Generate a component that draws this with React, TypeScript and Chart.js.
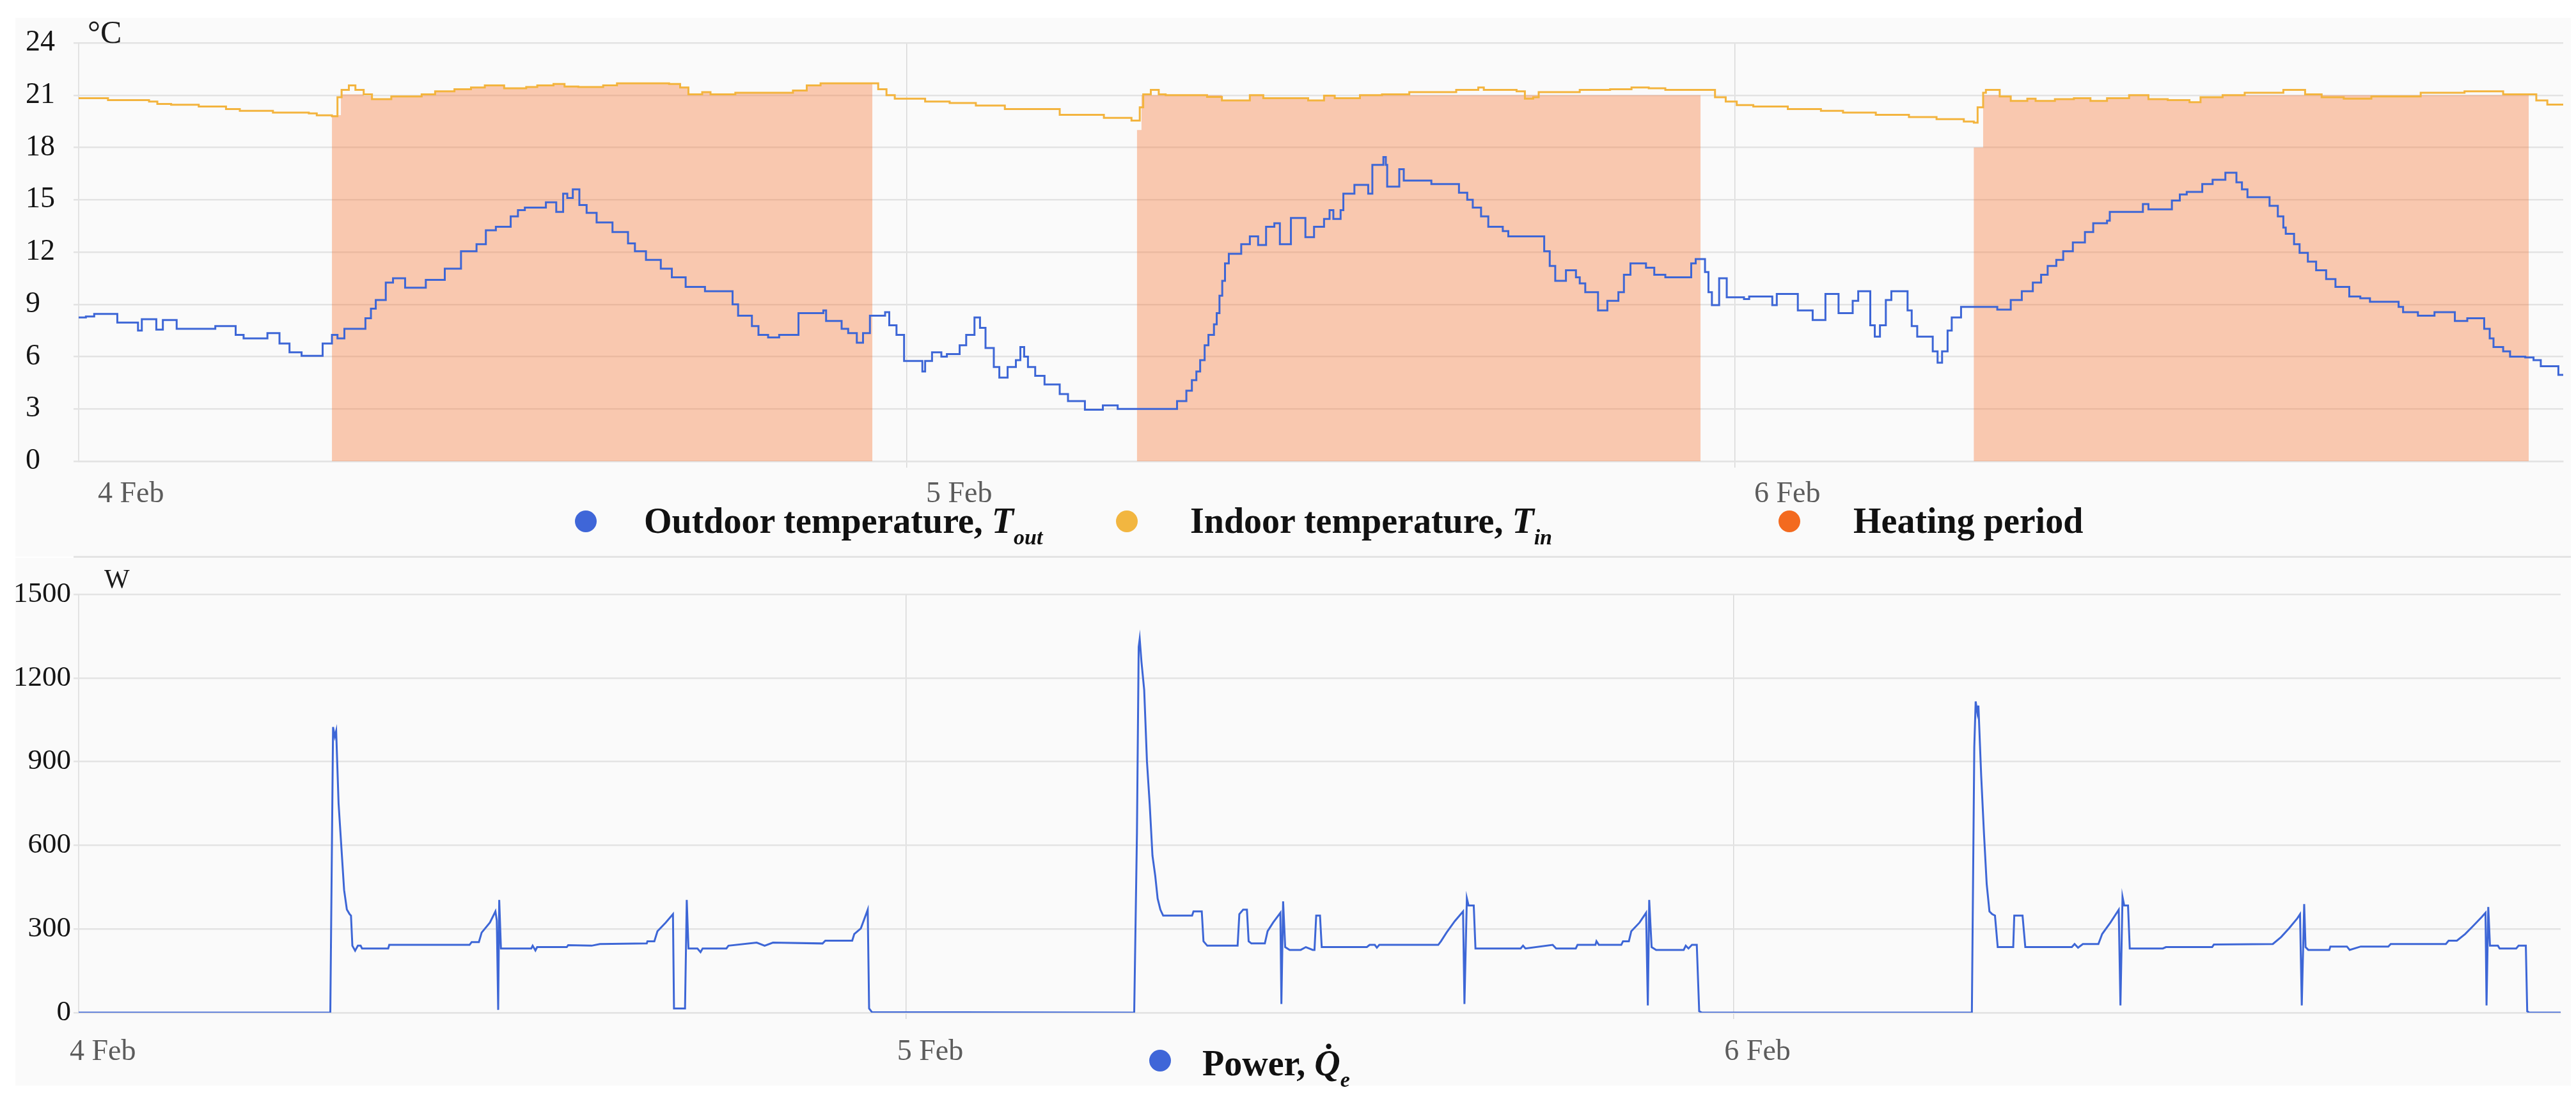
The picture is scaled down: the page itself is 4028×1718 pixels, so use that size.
import React, { useEffect, useRef } from 'react';
import { Chart, registerables } from 'chart.js';

Chart.register(...registerables);

// ===== data (x = hours since 4 Feb 00:00) =====

const dayLabels = ['4 Feb', '5 Feb', '6 Feb'];

// outdoor temperature T_out [h, °C]
const outdoorTemp: [number, number][] = [
  [0, 8.25], [0.21, 8.3], [0.45, 8.45], [1.12, 7.95], [1.72, 7.5], [1.83, 8.15], [2.25, 7.55], [2.44, 8.1],
  [2.84, 7.6], [3.96, 7.75], [4.55, 7.25], [4.78, 7.05], [5.47, 7.35], [5.82, 6.75], [6.11, 6.25], [6.46, 6.05],
  [7.07, 6.75], [7.34, 7.25], [7.5, 7.05], [7.7, 7.6], [8.31, 8.2], [8.47, 8.75], [8.61, 9.25], [8.9, 10.25],
  [9.11, 10.5], [9.46, 9.95], [10.06, 10.4], [10.61, 11.05], [11.08, 12.05], [11.53, 12.45], [11.8, 13.25],
  [12.09, 13.45], [12.52, 14.05], [12.73, 14.4], [12.93, 14.55], [13.54, 14.85], [13.84, 14.3], [14.04, 15.35],
  [14.16, 15.1], [14.32, 15.6], [14.51, 14.7], [14.72, 14.25], [15.01, 13.7], [15.47, 13.15], [15.92, 12.5],
  [16.12, 12.05], [16.44, 11.55], [16.87, 11.05], [17.19, 10.55], [17.59, 10.0], [18.15, 9.75], [18.95, 9.0],
  [19.11, 8.35], [19.51, 7.75], [19.7, 7.25], [19.98, 7.1], [20.3, 7.25], [20.86, 8.5], [21.58, 8.65],
  [21.66, 8.05], [22.11, 7.6], [22.3, 7.35], [22.55, 6.8], [22.73, 7.35], [22.93, 8.35], [23.37, 8.55],
  [23.49, 7.8], [23.7, 7.25], [23.92, 5.75], [24.45, 5.15], [24.53, 5.75], [24.73, 6.25], [25.0, 6.0],
  [25.16, 6.15], [25.53, 6.65], [25.72, 7.25], [25.96, 8.25], [26.12, 7.65], [26.28, 6.5], [26.52, 5.4],
  [26.68, 4.8], [26.92, 5.4], [27.16, 5.8], [27.29, 6.55], [27.4, 6.0], [27.51, 5.4], [27.72, 4.9],
  [27.99, 4.4], [28.43, 3.85], [28.67, 3.45], [29.16, 2.95], [29.68, 3.2], [30.11, 3.0], [31.83, 3.45],
  [32.1, 4.05], [32.26, 4.65], [32.39, 5.15], [32.5, 5.8], [32.63, 6.65], [32.74, 7.25], [32.9, 7.85],
  [32.98, 8.5], [33.06, 9.5], [33.14, 10.35], [33.22, 11.35], [33.33, 11.9], [33.69, 12.45], [33.94, 12.9],
  [34.18, 12.4], [34.41, 13.45], [34.65, 13.65], [34.81, 12.45], [35.13, 13.95], [35.55, 12.85],
  [35.8, 13.45], [36.09, 13.9], [36.25, 14.4], [36.36, 13.9], [36.57, 14.4], [36.65, 15.35], [36.97, 15.85],
  [37.37, 15.35], [37.49, 17.0], [37.81, 17.45], [37.88, 17.0], [37.92, 15.75], [38.27, 16.75], [38.4, 16.1],
  [39.2, 15.9], [40.0, 15.4], [40.24, 15.0], [40.4, 14.55], [40.64, 14.05], [40.85, 13.45], [41.27, 13.2],
  [41.43, 12.9], [42.47, 12.05], [42.63, 11.2], [42.79, 10.35], [43.1, 10.95], [43.39, 10.55], [43.5, 10.2],
  [43.66, 9.7], [44.03, 8.65], [44.3, 9.2], [44.62, 9.7], [44.78, 10.7], [44.97, 11.35], [45.42, 11.1],
  [45.66, 10.7], [45.98, 10.55], [46.73, 11.35], [46.86, 11.6], [47.13, 10.85], [47.23, 9.7], [47.33, 8.95],
  [47.54, 10.5], [47.76, 9.4], [48.26, 9.3], [48.41, 9.45], [49.08, 8.95], [49.21, 9.6], [49.82, 8.65],
  [50.25, 8.1], [50.62, 9.6], [51.0, 8.5], [51.41, 9.2], [51.57, 9.75], [51.92, 7.8], [52.05, 7.15],
  [52.2, 7.8], [52.37, 9.25], [52.53, 9.75], [53.0, 8.65], [53.12, 7.75], [53.28, 7.15], [53.73, 6.3],
  [53.87, 5.65], [54.0, 6.3], [54.16, 7.5], [54.28, 8.25], [54.55, 8.85], [55.6, 8.7], [55.99, 9.25],
  [56.31, 9.75], [56.63, 10.25], [56.87, 10.7], [57.06, 11.2], [57.31, 11.55], [57.51, 12.05], [57.79, 12.55],
  [58.14, 13.15], [58.38, 13.65], [58.78, 13.8], [58.86, 14.3], [59.82, 14.75], [59.98, 14.45], [60.66, 14.95],
  [60.89, 15.3], [61.09, 15.45], [61.54, 15.9], [61.84, 16.15], [62.21, 16.55], [62.53, 16.0], [62.69, 15.6],
  [62.85, 15.15], [63.49, 14.65], [63.73, 14.05], [63.89, 13.4], [63.96, 13.05], [64.2, 12.45], [64.36, 11.95],
  [64.6, 11.45], [64.84, 10.95], [65.13, 10.45], [65.4, 10.0], [65.8, 9.45], [66.12, 9.35], [66.4, 9.15],
  [67.23, 8.85], [67.36, 8.55], [67.79, 8.35], [68.27, 8.55], [68.86, 8.05], [69.22, 8.2], [69.71, 7.6],
  [69.87, 7.05], [69.98, 6.55], [70.26, 6.3], [70.46, 6.0], [70.9, 5.95], [71.14, 5.8], [71.35, 5.45],
  [71.86, 4.95], [72, 4.95],
];

// indoor temperature T_in [h, °C]
const indoorTemp: [number, number][] = [
  [0, 20.83], [0.85, 20.72], [2.04, 20.63], [2.28, 20.5], [2.68, 20.45], [3.48, 20.35], [4.27, 20.2],
  [4.67, 20.1], [5.63, 20.0], [6.67, 19.95], [6.9, 19.84], [7.34, 19.79], [7.5, 20.88], [7.62, 21.3],
  [7.83, 21.56], [8.02, 21.3], [8.26, 21.05], [8.5, 20.77], [9.06, 20.93], [9.94, 21.05], [10.33, 21.22],
  [10.89, 21.34], [11.37, 21.44], [11.77, 21.56], [12.33, 21.39], [12.97, 21.47], [13.29, 21.56],
  [13.76, 21.64], [14.08, 21.5], [14.48, 21.47], [15.2, 21.56], [15.6, 21.68], [17.11, 21.64], [17.43, 21.44],
  [17.67, 21.05], [18.07, 21.17], [18.31, 21.05], [19.03, 21.14], [20.7, 21.27], [21.1, 21.56], [21.5, 21.68],
  [23.01, 21.68], [23.17, 21.34], [23.41, 21.0], [23.65, 20.8], [24.53, 20.63], [25.24, 20.55], [26.0, 20.4],
  [26.84, 20.2], [28.43, 19.87], [29.71, 19.7], [30.51, 19.54], [30.75, 20.3], [30.85, 21.05], [31.07, 21.3],
  [31.3, 21.05], [31.5, 21.0], [32.7, 20.9], [33.13, 20.7], [33.94, 21.0], [34.33, 20.83], [35.63, 20.7],
  [36.09, 20.97], [36.4, 20.83], [37.13, 21.0], [37.77, 21.05], [38.56, 21.17], [39.92, 21.3], [40.56, 21.44],
  [40.72, 21.3], [41.67, 21.22], [41.91, 20.8], [42.15, 20.88], [42.31, 21.17], [43.5, 21.3], [44.38, 21.34],
  [45.0, 21.44], [45.5, 21.39], [45.98, 21.3], [47.23, 21.3], [47.42, 20.88], [47.73, 20.63], [48.05, 20.43],
  [48.53, 20.35], [49.53, 20.2], [50.49, 20.1], [51.13, 20.0], [52.08, 19.87], [53.04, 19.74], [53.84, 19.62],
  [54.63, 19.49], [54.92, 19.42], [55.03, 20.3], [55.19, 21.14], [55.27, 21.3], [55.67, 20.93], [55.99, 20.67],
  [56.47, 20.8], [56.71, 20.67], [57.27, 20.77], [57.82, 20.83], [58.3, 20.67], [58.78, 20.83], [59.42, 21.0],
  [59.98, 20.77], [60.54, 20.72], [61.17, 20.6], [61.49, 20.88], [62.13, 21.0], [62.77, 21.14], [63.89, 21.3],
  [64.52, 21.05], [65.0, 20.88], [65.64, 20.8], [66.44, 20.93], [67.87, 21.14], [69.14, 21.22], [70.26, 21.05],
  [71.22, 20.7], [71.54, 20.46], [72, 20.43],
];

// heating period, filled area top [h, °C] (0 = off)
const heatingPeriod: [number, number][] = [
  [0, 0], [7.34, 19.85], [7.6, 21.05], [8.26, 20.95], [8.5, 20.77], [9.06, 20.93], [9.94, 21.05],
  [10.33, 21.22], [10.89, 21.34], [11.37, 21.44], [11.77, 21.56], [12.33, 21.39], [12.97, 21.47],
  [13.29, 21.56], [13.76, 21.64], [14.08, 21.5], [15.6, 21.68], [17.43, 21.44], [17.67, 21.05], [18.07, 21.17],
  [18.31, 21.05], [19.03, 21.14], [20.7, 21.27], [21.1, 21.56], [21.5, 21.68], [23.0, 0],
  [30.67, 19.0], [30.8, 21.0], [33.13, 20.7], [33.94, 21.0], [34.33, 20.83], [35.63, 20.7], [36.09, 20.97],
  [36.4, 20.83], [37.13, 21.0], [47.0, 0],
  [54.92, 18.0], [55.19, 21.0], [55.67, 20.93], [55.99, 20.67], [56.47, 20.8], [56.71, 20.67], [57.27, 20.77],
  [57.82, 20.83], [58.3, 20.67], [58.78, 20.83], [59.42, 21.0], [59.98, 20.77], [60.54, 20.72], [61.17, 20.6],
  [61.49, 20.88], [62.13, 21.0], [71.0, 0], [72, 0],
];

// heating power Q_e [h, W]
const heatingPower: [number, number][] = [
  [0, 0], [7.3, 0], [7.38, 1024], [7.43, 990], [7.47, 1010], [7.54, 750], [7.62, 595], [7.7, 440], [7.78, 370],
  [7.86, 353], [7.9, 348], [7.94, 240], [8.02, 222], [8.1, 240], [8.18, 240], [8.22, 230], [8.98, 230],
  [9.01, 243], [11.34, 243], [11.4, 253], [11.61, 253], [11.69, 287], [11.93, 323], [12.09, 363], [12.13, 330],
  [12.17, 10], [12.2, 404], [12.25, 230], [13.13, 230], [13.17, 240], [13.25, 223], [13.3, 235], [14.16, 235],
  [14.2, 242], [14.88, 240], [15.12, 246], [16.48, 248], [16.5, 256], [16.7, 256], [16.79, 292], [17.03, 323],
  [17.24, 353], [17.27, 15], [17.59, 15], [17.64, 404], [17.69, 230], [17.95, 230], [18.04, 217], [18.1, 230],
  [18.79, 230], [18.85, 240], [19.67, 251], [19.9, 240], [20.14, 251], [21.58, 248], [21.66, 258], [22.44, 258],
  [22.5, 282], [22.69, 302], [22.89, 369], [22.93, 15], [23.01, 2],
  [30.62, 0], [30.7, 645], [30.75, 1311], [30.78, 1340], [30.83, 1259], [30.91, 1157], [30.99, 901],
  [31.07, 747], [31.15, 563], [31.23, 491], [31.3, 409], [31.38, 369], [31.46, 348], [32.3, 348], [32.34, 363],
  [32.58, 363], [32.63, 256], [32.74, 240], [33.62, 240], [33.67, 353], [33.78, 369], [33.89, 369],
  [33.94, 256], [34.02, 248], [34.41, 248], [34.49, 292], [34.65, 323], [34.86, 358], [34.89, 31], [34.94, 399],
  [35.0, 235], [35.13, 225], [35.45, 225], [35.6, 235], [35.8, 225], [35.85, 225], [35.9, 348], [36.01, 348],
  [36.06, 235], [37.37, 235], [37.45, 243], [37.6, 243], [37.66, 233], [37.73, 243], [39.44, 243], [39.52, 256],
  [39.68, 287], [39.92, 328], [40.16, 363], [40.2, 31], [40.27, 410], [40.32, 384], [40.47, 384], [40.52, 230],
  [41.83, 230], [41.9, 240], [41.97, 230], [42.76, 243], [42.86, 230], [43.43, 230], [43.48, 243], [44.0, 243],
  [44.03, 256], [44.1, 243], [44.75, 243], [44.8, 256], [44.97, 256], [45.04, 292], [45.28, 323], [45.47, 358],
  [45.52, 26], [45.56, 404], [45.63, 235], [45.76, 225], [46.56, 225], [46.62, 240], [46.7, 230], [46.8, 243],
  [46.94, 243], [47.01, 5], [47.09, 0],
  [54.92, 0], [54.99, 952], [55.03, 1116], [55.08, 1075], [55.11, 1101], [55.19, 850], [55.27, 645],
  [55.35, 461], [55.43, 363], [55.51, 353], [55.59, 348], [55.67, 235], [56.12, 235], [56.15, 348], [56.39, 348],
  [56.47, 235], [57.82, 235], [57.9, 246], [58.0, 233], [58.14, 246], [58.59, 246], [58.7, 282], [58.94, 323],
  [59.18, 369], [59.23, 26], [59.29, 415], [59.34, 384], [59.45, 384], [59.5, 230], [60.46, 230], [60.55, 235],
  [61.89, 235], [61.94, 244], [63.65, 246], [63.89, 271], [64.12, 302], [64.36, 338], [64.44, 353], [64.49, 26],
  [64.56, 389], [64.6, 235], [64.68, 225], [65.29, 225], [65.32, 237], [65.8, 237], [65.88, 225], [66.2, 237],
  [67.0, 237], [67.07, 246], [68.67, 246], [68.75, 258], [68.99, 258], [69.23, 282], [69.47, 312], [69.71, 343],
  [69.82, 358], [69.85, 26], [69.9, 379], [69.95, 240], [70.18, 240], [70.23, 230], [70.71, 230], [70.78, 240],
  [70.99, 240], [71.03, 5], [71.09, 0], [72, 0],
];

// ===== styles =====

const FONT = '"Liberation Serif", "Times New Roman", serif';
const CANVAS_FONT = 'Liberation Serif, serif';
const BLUE = '#3d66d6';
const AMBER = '#f3b43e';
const ORANGE = '#f36a1f';
const HEAT_FILL = 'rgba(247, 112, 42, 0.36)';
const GRID = '#e3e3e3';
const DAY_GRID = '#d8d8d8';

Chart.defaults.font.family = CANVAS_FONT;

const toXY = (pts: [number, number][]) => pts.map(([x, y]) => ({ x, y }));

const dayTick = (value: number | string) => {
  const v = Number(value);
  const i = Math.round(v / 24);
  return v % 24 === 0 && i < dayLabels.length ? dayLabels[i] : '';
};

const plainTick = (value: number | string) => String(value);

function xScale(labelOffset: number, padding: number) {
  return {
    type: 'linear' as const,
    min: 0,
    max: 72,
    afterFit: (s: any) => { s.height = 80; },
    grid: {
      color: (ctx: any) => (ctx.tick && ctx.tick.value > 0 && ctx.tick.value < 72 ? DAY_GRID : 'rgba(0,0,0,0)'),
      lineWidth: 1.5,
      tickLength: 10,
    },
    border: { color: GRID, width: 2.5 },
    ticks: {
      stepSize: 24,
      autoSkip: false,
      maxRotation: 0,
      align: 'start' as const,
      labelOffset,
      padding,
      color: '#5c5c5c',
      font: { family: CANVAS_FONT, size: 46 },
      callback: dayTick,
    },
  };
}

// ===== temperature chart =====

function TemperatureChart() {
  const canvasRef = useRef<HTMLCanvasElement>(null);
  const chartRef = useRef<Chart | null>(null);

  useEffect(() => {
    if (!canvasRef.current) return;
    const ctx = canvasRef.current.getContext('2d');
    if (!ctx) return;

    chartRef.current = new Chart(ctx, {
      type: 'line',
      data: {
        datasets: [
          { label: 'Outdoor temperature', data: toXY(outdoorTemp), borderColor: BLUE, borderWidth: 3, stepped: true, pointRadius: 0, fill: false },
          { label: 'Indoor temperature', data: toXY(indoorTemp), borderColor: AMBER, borderWidth: 3, stepped: true, pointRadius: 0, fill: false },
          { label: 'Heating period', data: toXY(heatingPeriod), borderWidth: 0, borderColor: 'rgba(0,0,0,0)', backgroundColor: HEAT_FILL, stepped: true, pointRadius: 0, fill: 'origin' },
        ],
      },
      options: {
        responsive: false,
        animation: false,
        devicePixelRatio: 1,
        layout: { padding: { left: 40, top: 39, right: 20, bottom: 0 } },
        plugins: { legend: { display: false }, tooltip: { enabled: false } },
        scales: {
          x: xScale(30, 14) as any,
          y: {
            min: 0,
            max: 24,
            afterFit: (s: any) => { s.width = 83; },
            grid: { color: GRID, lineWidth: 2.5, tickLength: 8 },
            border: { color: GRID, width: 2 },
            ticks: { stepSize: 3, crossAlign: 'far', padding: 6, color: '#141414', font: { family: CANVAS_FONT, size: 46 }, callback: plainTick },
          },
        },
      },
    });

    return () => {
      if (chartRef.current) {
        chartRef.current.destroy();
        chartRef.current = null;
      }
    };
  }, []);

  return <canvas ref={canvasRef} width={4028} height={773} style={{ position: 'absolute', left: 0, top: 28 }} />;
}

// ===== power chart =====

function PowerChart() {
  const canvasRef = useRef<HTMLCanvasElement>(null);
  const chartRef = useRef<Chart | null>(null);

  useEffect(() => {
    if (!canvasRef.current) return;
    const ctx = canvasRef.current.getContext('2d');
    if (!ctx) return;

    chartRef.current = new Chart(ctx, {
      type: 'line',
      data: {
        datasets: [
          { label: 'Power', data: toXY(heatingPower), borderColor: BLUE, borderWidth: 3, tension: 0, pointRadius: 0, fill: false },
        ],
      },
      options: {
        responsive: false,
        animation: false,
        devicePixelRatio: 1,
        layout: { padding: { left: 0, top: 57, right: 20, bottom: 0 } },
        plugins: { legend: { display: false }, tooltip: { enabled: false } },
        scales: {
          x: xScale(-14, 24) as any,
          y: {
            min: 0,
            max: 1500,
            afterFit: (s: any) => { s.width = 123; },
            grid: { color: GRID, lineWidth: 2.5, tickLength: 8 },
            border: { color: GRID, width: 2 },
            ticks: { stepSize: 300, crossAlign: 'near', padding: 4, color: '#141414', font: { family: CANVAS_FONT, size: 45 }, callback: plainTick },
          },
        },
      },
    });

    return () => {
      if (chartRef.current) {
        chartRef.current.destroy();
        chartRef.current = null;
      }
    };
  }, []);

  return <canvas ref={canvasRef} width={4028} height={791} style={{ position: 'absolute', left: 0, top: 872 }} />;
}

// ===== HTML legend =====

function Dot({ x, y, color }: { x: number; y: number; color: string }) {
  return (
    <div style={{ position: 'absolute', left: x - 17, top: y - 17, width: 34, height: 34, borderRadius: '50%', background: color }} />
  );
}

function Label({ x, top, children }: { x: number; top: number; children: React.ReactNode }) {
  return (
    <div style={{ position: 'absolute', left: x, top, fontSize: 56, fontWeight: 'bold', lineHeight: 1, whiteSpace: 'nowrap', color: '#111' }}>
      {children}
    </div>
  );
}

const subStyle: React.CSSProperties = { fontSize: 34, fontStyle: 'italic', verticalAlign: -18, lineHeight: 1 };

export default function App() {
  return (
    <div style={{ position: 'absolute', left: 0, top: 0, width: 4028, height: 1718, background: '#fff', fontFamily: FONT, overflow: 'hidden' }}>
      <div style={{ position: 'absolute', left: 24, top: 28, width: 3996, height: 842, background: '#fafafa' }} />
      <div style={{ position: 'absolute', left: 24, top: 872, width: 3996, height: 825, background: '#fafafa' }} />
      <div style={{ position: 'absolute', left: 115, top: 869, width: 3905, height: 3, background: '#e4e4e4' }} />

      <TemperatureChart />
      <PowerChart />

      <div style={{ position: 'absolute', left: 137, top: 25, fontSize: 50, lineHeight: 1, color: '#1a1a1a' }}>°C</div>
      <div style={{ position: 'absolute', left: 163, top: 884, fontSize: 42, lineHeight: 1, color: '#1a1a1a' }}>W</div>

      <Dot x={916} y={815} color="#3f66d8" />
      <Label x={1007} top={786}>
        Outdoor temperature, <i>T</i><span style={subStyle}>out</span>
      </Label>
      <Dot x={1762} y={815} color="#f2b640" />
      <Label x={1861} top={786}>
        Indoor temperature, <i>T</i><span style={subStyle}>in</span>
      </Label>
      <Dot x={2798} y={815} color={ORANGE} />
      <Label x={2898} top={786}>Heating period</Label>

      <Dot x={1814} y={1658} color="#3f66d8" />
      <Label x={1880} top={1634}>
        Power, <i>Q&#x307;</i><span style={subStyle}>e</span>
      </Label>
    </div>
  );
}
